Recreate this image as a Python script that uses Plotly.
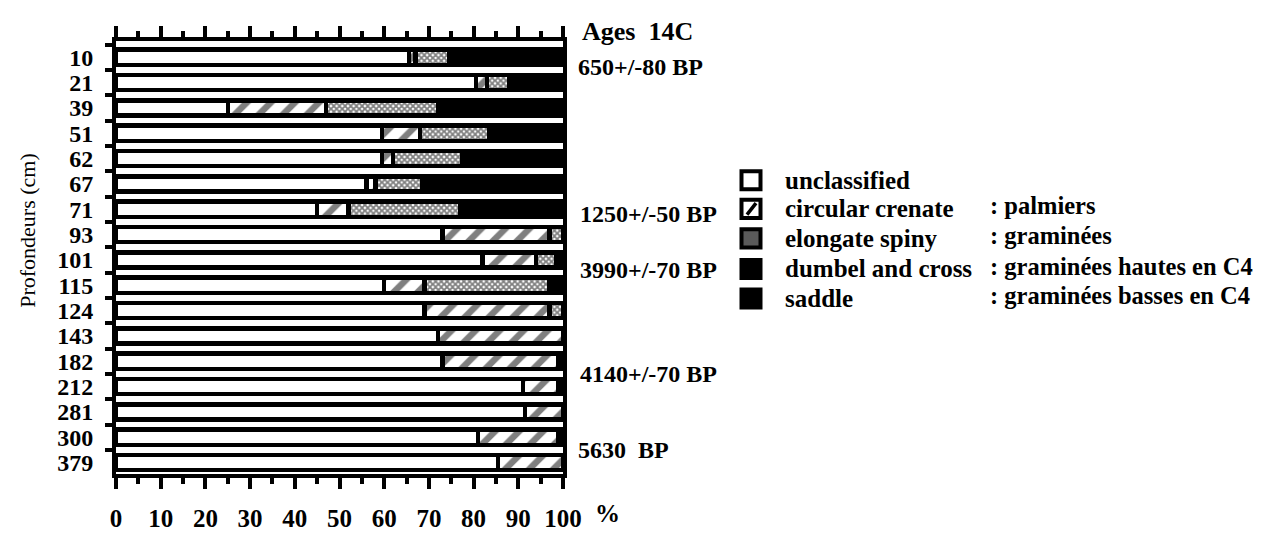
import plotly.graph_objects as go

# ---------------- data ----------------
depths = ["10", "21", "39", "51", "62", "67", "71", "93", "101", "115",
          "124", "143", "182", "212", "281", "300", "379"]
unclassified = [65.5, 80.5, 25, 59.5, 59.5, 56, 45, 73, 82, 60, 69, 72, 73, 91, 91.5, 81, 85.5]
circular_crenate = [1.5, 2.5, 22, 8.5, 2.5, 2, 7, 24, 12, 9, 28, 28, 26, 8, 8.5, 18, 14.5]
elongate_spiny = [7.5, 5, 25, 15.5, 15.5, 10.5, 25, 3, 4.5, 28, 3, 0, 0, 0, 0, 0, 0]
# dumbel & cross + saddle are both drawn solid black (indistinguishable)
dumbel_saddle = [25.5, 12, 28, 16.5, 22.5, 31.5, 23, 0, 1.5, 3, 0, 0, 1, 1, 0, 1, 0]

x_ticks = list(range(0, 101, 10))

age_header = "Ages  14C"
age_labels = ["650+/-80 BP", "1250+/-50 BP", "3990+/-70 BP", "4140+/-70 BP", "5630  BP"]

legend_names = ["unclassified", "circular crenate", "elongate spiny", "dumbel and cross", "saddle"]
legend_desc = ["", ": palmiers", ": graminées", ": graminées hautes en C4", ": graminées basses en C4"]

# ---------------- layout geometry (px) ----------------
W, H = 1276, 536
X0, X1 = 108, 555
Y0, Y1 = 33, 487
NR = len(depths)
Y_RANGE = [NR - 1 + 0.45, -0.64]          # reversed category range (top padding)

age_pos = [(568, 60), (570, 214), (570, 273), (570, 382), (568, 462)]
leg_y = [179, 209, 240, 272, 303]


def px(x):
    return (x - X0) / (X1 - X0)


def py(y):
    return (Y1 - y) / (Y1 - Y0)


FONT = "Liberation Serif"
LINE = dict(color="black", width=4.5)

fig = go.Figure()
fig.add_trace(go.Bar(y=depths, x=unclassified, orientation="h", name="unclassified",
                     marker=dict(color="white", line=LINE)))
fig.add_trace(go.Bar(y=depths, x=circular_crenate, orientation="h", name="circular crenate",
                     marker=dict(color="white", line=LINE,
                                 pattern=dict(shape="/", fgcolor="black", bgcolor="white",
                                              size=17, solidity=0.38, fillmode="overlay"))))
fig.add_trace(go.Bar(y=depths, x=elongate_spiny, orientation="h", name="elongate spiny",
                     marker=dict(color="white", line=LINE,
                                 pattern=dict(shape="x", fgcolor="black", bgcolor="white",
                                              size=4, solidity=0.7, fillmode="overlay"))))
fig.add_trace(go.Bar(y=depths, x=dumbel_saddle, orientation="h", name="dumbel and cross / saddle",
                     marker=dict(color="black", line=LINE)))

ann = []
shapes = []


def add_text(text, x, y, size, bold=True, anchor="left", angle=0):
    ann.append(dict(text=("<b>" + text + "</b>") if bold else text,
                    x=px(x), y=py(y), xref="paper", yref="paper",
                    xanchor=anchor, yanchor="middle", textangle=angle, showarrow=False,
                    font=dict(family=FONT, size=size, color="black")))


# y axis title
add_text("Profondeurs (cm)", 20, 232, 22, bold=False, anchor="center", angle=-90)
# percent sign
add_text("%", 599, 528, 25, anchor="center")
# Ages header and dates
add_text(age_header, 572, 23, 26)
for lab, (ax, ay) in zip(age_labels, age_pos):
    add_text(lab, ax, ay, 24)

# legend (drawn by hand: icon, name, description)
for k, (nm, ds, yc) in enumerate(zip(legend_names, legend_desc, leg_y)):
    s = 9.5
    fill = "white" if k < 2 else ("#5a5a5a" if k == 2 else "black")
    shapes.append(dict(type="rect", xref="paper", yref="paper",
                       x0=px(743 - s), x1=px(743 + s), y0=py(yc + s), y1=py(yc - s),
                       fillcolor=fill, line=dict(color="black", width=4)))
    if k == 1:
        shapes.append(dict(type="line", xref="paper", yref="paper",
                           x0=px(739), x1=px(748), y0=py(yc + 6), y1=py(yc - 6),
                           line=dict(color="black", width=3.5)))
    add_text(nm, 775, yc, 25)
    if ds:
        add_text(ds, 980, yc - 3, 24.5)

fig.update_layout(
    width=W, height=H,
    margin=dict(l=X0, r=W - X1, t=Y0, b=H - Y1),
    barmode="stack", bargap=0.40,
    showlegend=False,
    plot_bgcolor="white", paper_bgcolor="white",
    annotations=ann, shapes=shapes,
    xaxis=dict(range=[0, 100], tickmode="array", tickvals=x_ticks, ticktext=[str(v) for v in x_ticks],
               ticks="outside", ticklen=11, tickwidth=3.5, tickcolor="black",
               minor=dict(dtick=5, tick0=0, ticks="outside", ticklen=6, tickwidth=3.5, tickcolor="black"),
               showline=True, linewidth=4, linecolor="black", mirror="allticks",
               showgrid=False, zeroline=False, ticklabelstandoff=8,
               tickfont=dict(family=FONT, size=25, color="black", weight="bold")),
    yaxis=dict(type="category", categoryorder="array", categoryarray=depths, range=Y_RANGE,
               tickmode="array", tickvals=depths, ticktext=depths,
               ticks="outside", tickson="boundaries", ticklen=7, tickwidth=3.5, tickcolor="black",
               showline=True, linewidth=4, linecolor="black", mirror=True,
               showgrid=False, zeroline=False, ticklabelstandoff=14,
               tickfont=dict(family=FONT, size=24, color="black", weight="bold")),
)

fig.write_html("out.html")
